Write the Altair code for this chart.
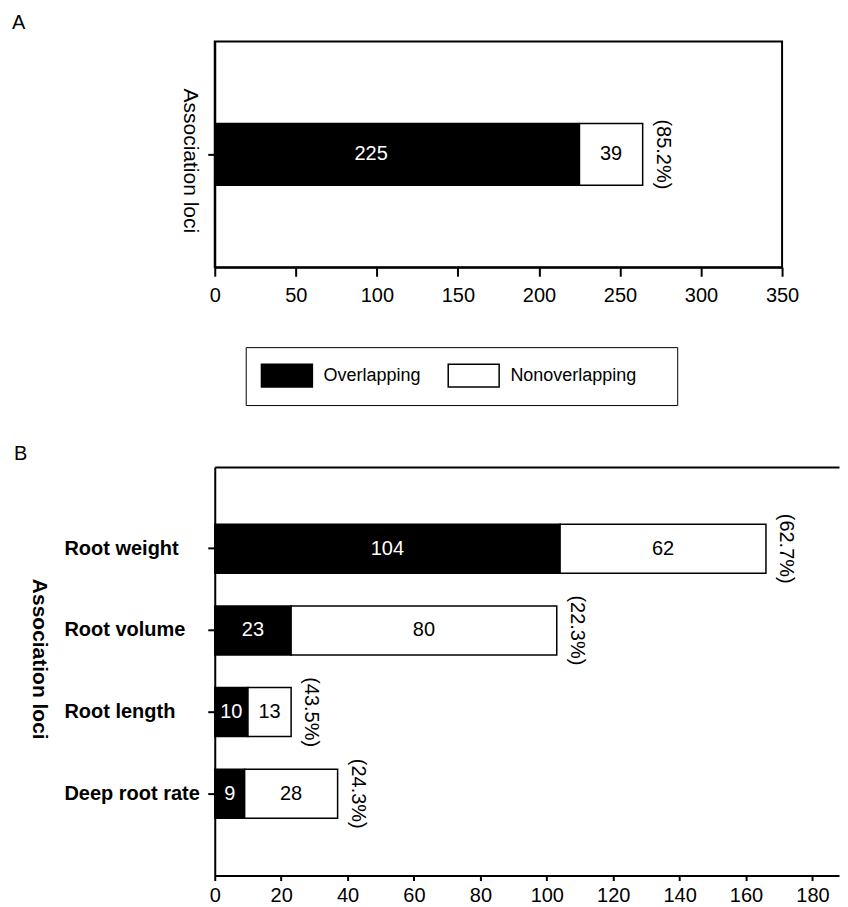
import altair as alt
import pandas as pd

# ---------------- data ----------------
types = ["Overlapping", "Nonoverlapping"]

# Panel A
a_trait = ["Association loci"]
a_counts = [225, 39]
a_pct = ["(85.2%)"]
a_ticks = [0, 50, 100, 150, 200, 250, 300, 350]

# Panel B
b_traits = ["Root weight", "Root volume", "Root length", "Deep root rate"]
b_overlap = [104, 23, 10, 9]
b_nonoverlap = [62, 80, 13, 28]
b_pct = ["(62.7%)", "(22.3%)", "(43.5%)", "(24.3%)"]
b_ticks = [0, 20, 40, 60, 80, 100, 120, 140, 160, 180]

FONT = "Liberation Sans"

dfA = pd.DataFrame({"Trait": a_trait * 2, "Type": types, "Count": a_counts, "ord": [0, 1]})
dfA_tot = pd.DataFrame({"Trait": a_trait, "Total": [sum(a_counts)], "Pct": a_pct})

rows = []
for t, o, n in zip(b_traits, b_overlap, b_nonoverlap):
    rows.append({"Trait": t, "Type": types[0], "Count": o, "ord": 0})
    rows.append({"Trait": t, "Type": types[1], "Count": n, "ord": 1})
dfB = pd.DataFrame(rows)
dfB_tot = pd.DataFrame({"Trait": b_traits,
                        "Total": [o + n for o, n in zip(b_overlap, b_nonoverlap)],
                        "Pct": b_pct})

fill_scale = alt.Scale(domain=types, range=["black", "white"])
text_scale = alt.Scale(domain=types, range=["white", "black"])

legend = alt.Legend(
    orient="none", legendX=31, legendY=306, direction="horizontal",
    title=" ", titleOrient="right", titlePadding=26, titleFontSize=18,
    strokeColor="black", fillColor="white", padding=15,
    symbolType="M-1,-0.9H3V0.9H-1Z", symbolSize=650,
    symbolStrokeColor="black", symbolStrokeWidth=1.5,
    labelFontSize=18, labelFont=FONT, labelColor="black",
    labelOffset=36, columnPadding=23,
)

# ---------------- panel A ----------------
xA = alt.Scale(domain=[0, 350], nice=False)
axXA = alt.Axis(values=a_ticks, title=None, tickSize=9, labelPadding=9, labelFontSize=20,
                labelFlush=False, grid=False)
axYA = alt.Axis(labels=False, title="Association loci", titleAngle=90, titleBaseline="top",
                titleFontSize=21, titleFontWeight="normal", tickSize=7, titlePadding=6,
                titleY=119)

baseA = alt.Chart(dfA).transform_stack(
    stack="Count", groupby=["Trait"], as_=["x0", "x1"], sort=[alt.SortField("ord")]
).transform_calculate(mid="(datum.x0 + datum.x1) / 2")

barsA = baseA.mark_bar(stroke="black", strokeWidth=1.5, size=62).encode(
    x=alt.X("x0:Q", scale=xA, axis=axXA),
    x2="x1:Q",
    y=alt.Y("Trait:N", axis=axYA),
    fill=alt.Fill("Type:N", scale=fill_scale, legend=legend),
)
numsA1 = baseA.transform_filter(alt.datum.Type == types[0]).mark_text(
    fontSize=20, font=FONT, color="white", dx=-26).encode(
    x=alt.X("mid:Q", axis=axXA), y=alt.Y("Trait:N", axis=axYA), text="Count:Q",
)
numsA2 = baseA.transform_filter(alt.datum.Type == types[1]).mark_text(
    fontSize=20, font=FONT, color="black").encode(
    x=alt.X("mid:Q", axis=axXA), y=alt.Y("Trait:N", axis=axYA), text="Count:Q",
)
pctA = alt.Chart(dfA_tot).mark_text(angle=90, align="center", baseline="bottom", dy=-10,
                                    fontSize=20, font=FONT, color="black").encode(
    x=alt.X("Total:Q", axis=axXA), y=alt.Y("Trait:N", axis=axYA), text="Pct:N",
)
panelA = alt.layer(barsA, numsA1, numsA2, pctA).properties(
    width=568, height=226,
    view=alt.ViewBackground(stroke="black", strokeWidth=2),
    title=alt.TitleParams("A", anchor="start", frame="group", dx=-203, offset=-7,
                          baseline="alphabetic", fontSize=20, fontWeight="normal", font=FONT),
)

# ---------------- panel B ----------------
xB = alt.Scale(domain=[0, 188], nice=False)
yB = alt.Scale(domain=b_traits, paddingInner=0.4, paddingOuter=0.7)
axYB = alt.Axis(title="Association loci", titleAngle=90, titleBaseline="top",
                titleFontSize=21, titleFontWeight="bold", titlePadding=14, titleY=192,
                labelAlign="left", labelPadding=144, labelFontSize=20,
                labelFontWeight="bold", tickSize=7)

baseB = alt.Chart(dfB).transform_stack(
    stack="Count", groupby=["Trait"], as_=["x0", "x1"], sort=[alt.SortField("ord")]
).transform_calculate(mid="(datum.x0 + datum.x1) / 2")

barsB = baseB.mark_bar(stroke="black", strokeWidth=1.5).encode(
    x=alt.X("x0:Q", scale=xB, axis=alt.Axis(values=b_ticks, title=None, tickSize=5,
                                           labelPadding=5, labelFontSize=20,
                                           labelFlush=False, grid=False)),
    x2="x1:Q",
    y=alt.Y("Trait:N", scale=yB, sort=b_traits, axis=axYB),
    fill=alt.Fill("Type:N", scale=fill_scale, legend=legend),
)
numsB = baseB.mark_text(fontSize=20, font=FONT).encode(
    x=alt.X("mid:Q", axis=None), y=alt.Y("Trait:N", sort=b_traits, axis=axYB), text="Count:Q",
    color=alt.Color("Type:N", scale=text_scale, legend=None),
)
pctB = alt.Chart(dfB_tot).mark_text(angle=90, align="center", baseline="bottom", dy=-10,
                                    fontSize=20, font=FONT, color="black").encode(
    x=alt.X("Total:Q", axis=alt.Axis(orient="top", labels=False, ticks=False, title=None,
                                     grid=False)),
    y=alt.Y("Trait:N", sort=b_traits, axis=axYB), text="Pct:N",
)
panelB = alt.layer(barsB, numsB, pctB).resolve_axis(x="independent").properties(
    width=625, height=409,
    title=alt.TitleParams("B", anchor="start", frame="group", dx=-201, offset=-13,
                          baseline="alphabetic", fontSize=20, fontWeight="normal", font=FONT),
)

chart = alt.vconcat(panelA, panelB, spacing=137).properties(
    padding={"left": 3, "top": 3, "right": 0, "bottom": 0},
).configure(font=FONT).configure_view(stroke="transparent").configure_axis(
    domainColor="black", domainWidth=2, tickColor="black", tickWidth=2,
    labelColor="black", titleColor="black", labelFont=FONT, titleFont=FONT,
)

chart.save("out.html", embed_options={"renderer": "svg", "actions": False})
